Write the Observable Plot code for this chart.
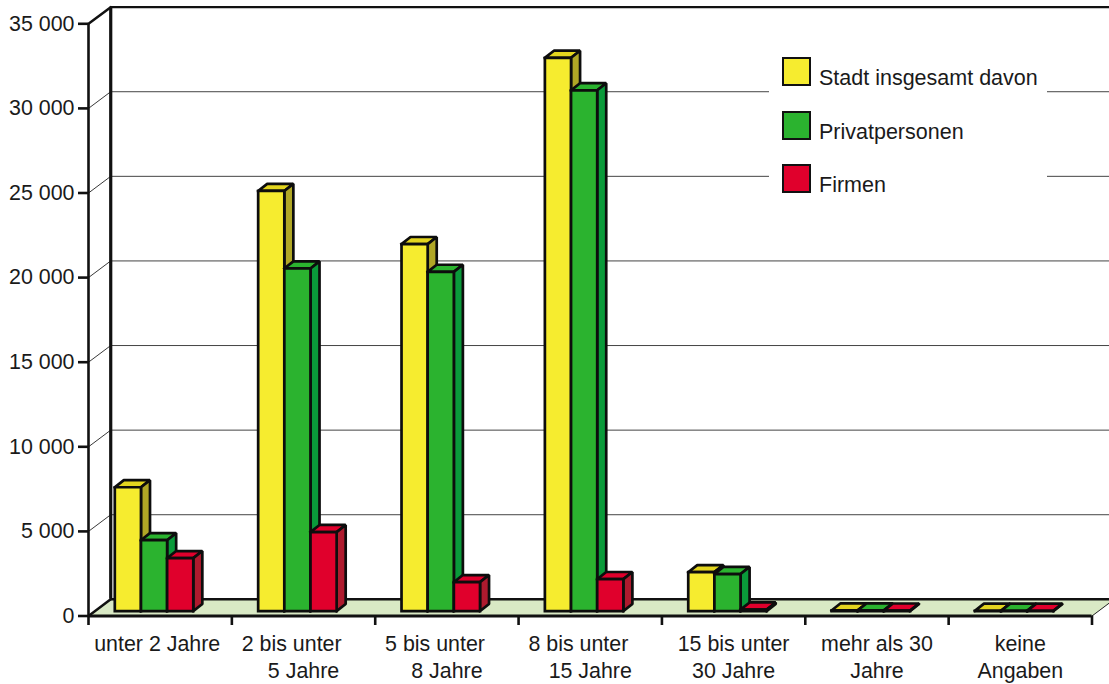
<!DOCTYPE html>
<html lang="de">
<head>
<meta charset="utf-8">
<script src="https://cdn.jsdelivr.net/npm/d3@7"></script>
<script src="https://cdn.jsdelivr.net/npm/@observablehq/plot@0.6"></script>
<style>
html,body{margin:0;padding:0;background:#fff}
#chart{position:relative;width:1109px;height:684px;overflow:hidden}
#chart svg{display:block;position:absolute;left:0;top:0;background:#fff}
#legend{position:absolute;left:769px;top:48px;width:278px;height:152px;background:#fff;font:21.5px "Liberation Sans",Arial,sans-serif;color:#1a1a1a}
#legend i{position:absolute;left:13px;width:24.5px;height:24.5px;border:2.4px solid #111;display:block}
#legend span{position:absolute;left:50px;line-height:24px;white-space:pre}
</style>
</head>
<body>
<div id="chart"></div>
<script>
const categories = [
  "unter 2 Jahre\u00a0",
  "2 bis unter\u00a0\u00a0\u00a0\u00a0\n5 Jahre",
  "5 bis unter\u00a0\u00a0\u00a0\u00a0\n8 Jahre",
  "8 bis unter\u00a0\u00a0\u00a0\u00a0\n15 Jahre",
  "15 bis unter\n30 Jahre",
  "mehr als 30\nJahre",
  "keine\nAngaben"
];
const seriesNames = ["Stadt insgesamt davon", "Privatpersonen", "Firmen"];
const stadt = [7320, 24830, 21690, 32700, 2300, 40, 20];
const privat = [4190, 20250, 20050, 30780, 2190, 40, 20];
const firmen = [3130, 4670, 1710, 1890, 90, 30, 20];
const seriesValues = [stadt, privat, firmen];
const frontColors = ["#f6ec2f", "#2bb32f", "#e0002c"];
const topColors = ["#e3d51f", "#2bb32f", "#e0002c"];
const sideColors = ["#b0a726", "#0a9a3a", "#ae1a2e"];
const yTicks = [0, 5000, 10000, 15000, 20000, 25000, 30000, 35000];
const xTicks = [0, 1, 2, 3, 4, 5, 6, 7];

// oblique projection, in scale units
const wallX = 0.155, wallY = 985;          // depth of the floor
const barX = 0.063, barY = 420;            // depth of one bar
const barStart = 0.1835, barW = 0.1825, barBase = 290;

const faces = [];
let id = 0;
const face = (fill, pts) => {
  id++;
  for (const [x, y] of [...pts, pts[0]]) faces.push({id, fill, x, y});
};
categories.forEach((c, g) => {
  seriesValues.forEach((vals, s) => {
    const x0 = g + barStart + s * barW, x1 = x0 + barW;
    const y0 = barBase, y1 = barBase + vals[g];
    face(topColors[s], [[x0, y1], [x1, y1], [x1 + barX, y1 + barY], [x0 + barX, y1 + barY]]);
    face(sideColors[s], [[x1, y0], [x1 + barX, y0 + barY], [x1 + barX, y1 + barY], [x1, y1]]);
    face(frontColors[s], [[x0, y0], [x1, y0], [x1, y1], [x0, y1]]);
  });
});

const floor = [[0, 0], [7, 0], [7 + wallX, wallY], [wallX, wallY]].map(([x, y]) => ({x, y}));
const font = "Liberation Sans, Arial, sans-serif";
const grid = yTicks.slice(1, -1);
const diag = v => [{x: 0, y: v}, {x: wallX, y: v + wallY}];

const plot = Plot.plot({
  width: 1109, height: 684,
  marginLeft: 88, marginRight: 17.5, marginTop: 23.3, marginBottom: 68.5,
  style: {background: "#fff", overflow: "visible"},
  x: {domain: [0, 7], axis: null},
  y: {domain: [0, 35000], axis: null},
  marks: [
    Plot.ruleY(grid.map(v => v + wallY), {x1: wallX, x2: 7.2, stroke: "#444", strokeWidth: 1}),
    ...grid.map(v => Plot.line(diag(v), {x: "x", y: "y", stroke: "#222", strokeWidth: 0.9})),
    Plot.line(floor.concat(floor[0]), {x: "x", y: "y", fill: "#d9e9c5", stroke: "none"}),
    Plot.ruleY([wallY], {x1: wallX, x2: 7.2, stroke: "#111", strokeWidth: 2.5}),
    Plot.line([floor[1], floor[2]], {x: "x", y: "y", stroke: "#222", strokeWidth: 1}),
    Plot.line(diag(0), {x: "x", y: "y", stroke: "#111", strokeWidth: 2.5}),
    Plot.line(diag(35000), {x: "x", y: "y", stroke: "#111", strokeWidth: 2.5}),
    Plot.ruleX([wallX], {y1: wallY, y2: 35000 + wallY, stroke: "#111", strokeWidth: 3.2}),
    Plot.ruleY([35000 + wallY], {x1: wallX, x2: 7.2, stroke: "#111", strokeWidth: 2.2}),
    Plot.ruleX([0], {y1: 0, y2: 35000, stroke: "#111", strokeWidth: 2.6}),
    Plot.ruleY([0], {x1: 0, x2: 7, stroke: "#111", strokeWidth: 2.8}),
    Plot.axisY({
      ticks: yTicks, tickSize: 10, tickPadding: 4, label: null, strokeWidth: 2.6, stroke: "#111",
      tickFormat: d => d3.format(",")(d).replace(/,/g, " "),
      fontSize: 21.4, fontFamily: font, color: "#1a1a1a"
    }),
    Plot.axisX({ticks: xTicks, tickSize: 9.5, label: null, strokeWidth: 2.6, stroke: "#111", tickFormat: () => ""}),
    Plot.line(faces, {
      x: "x", y: "y", z: "id", fill: "fill", stroke: "#0d0d0d", strokeWidth: 2.7,
      strokeLinejoin: "miter", strokeLinecap: "square", curve: "linear"
    }),
    Plot.text(categories, {
      x: (d, i) => i + 0.5, y: () => 0, text: d => d,
      dy: 15.5, lineAnchor: "top", lineHeight: 1.27,
      fontSize: 21.4, fontFamily: font, fill: "#1a1a1a"
    })
  ]
});
const chart = document.getElementById("chart");
chart.append(plot);

const legend = document.createElement("div");
legend.id = "legend";
const tops = [9, 63, 116];
seriesNames.forEach((name, i) => {
  const sw = document.createElement("i");
  sw.style.top = tops[i] + "px";
  sw.style.background = frontColors[i];
  const label = document.createElement("span");
  label.textContent = name;
  label.style.top = (tops[i] + 8.5) + "px";
  legend.append(sw, label);
});
chart.append(legend);
</script>
</body>
</html>
